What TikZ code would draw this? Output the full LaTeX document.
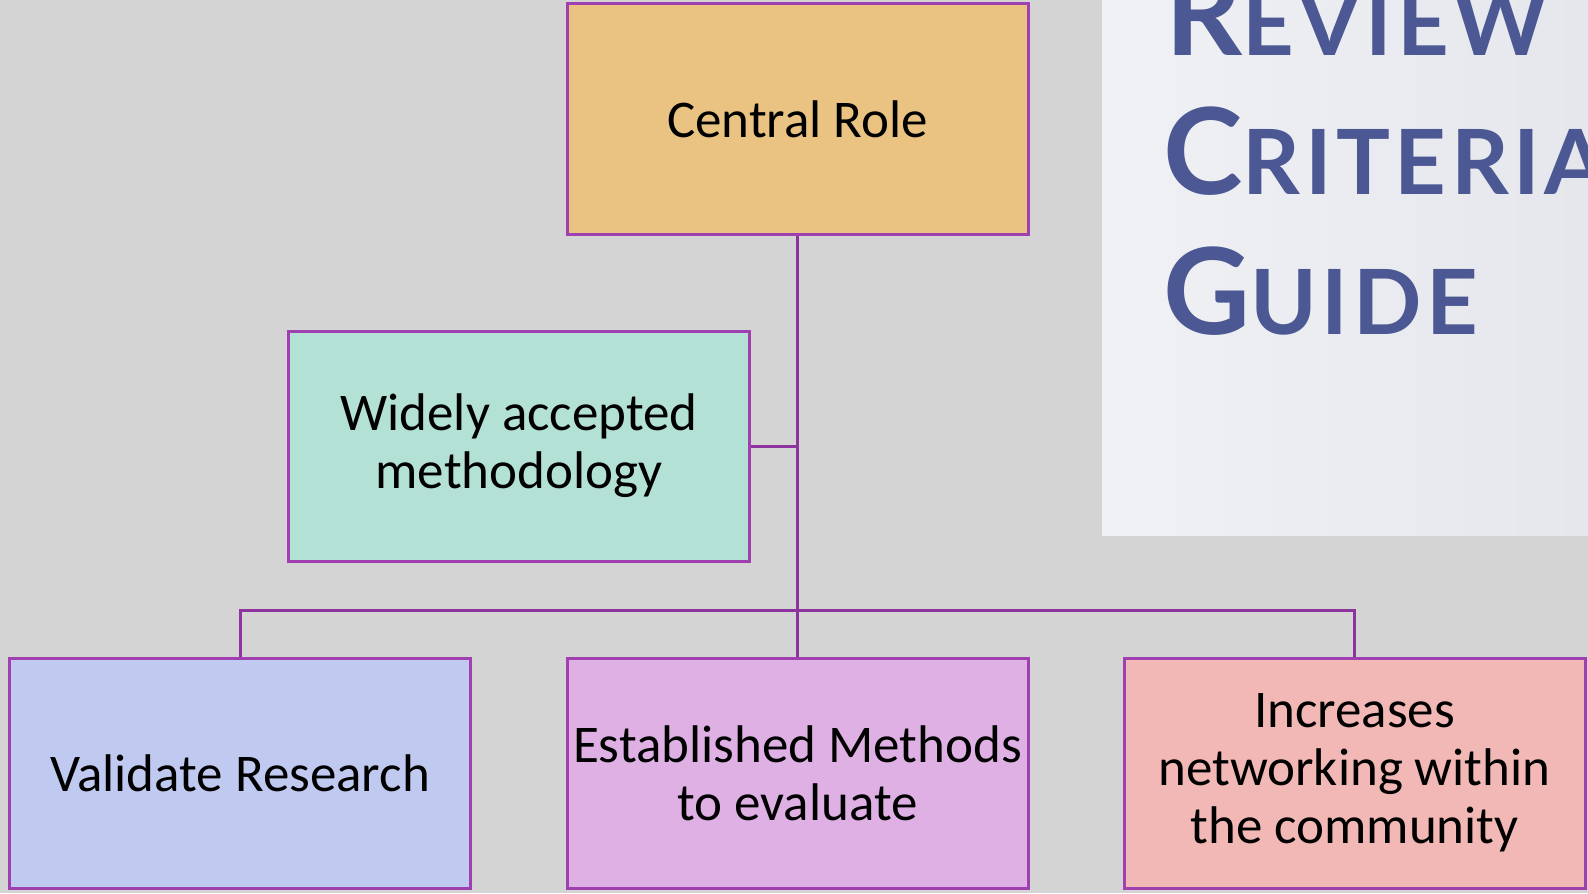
\documentclass[tikz,border=0pt]{standalone}
\usepackage{fontspec}
\setmainfont{Carlito}
\newfontfamily\titlefont{Lato}[LetterSpace=5]
\definecolor{bg}{RGB}{212,212,212}
\definecolor{bordc}{RGB}{160,64,176}
\definecolor{linkc}{RGB}{142,52,158}
\definecolor{titlec}{RGB}{75,88,147}
\definecolor{panelL}{RGB}{240,241,245}
\definecolor{panelR}{RGB}{229,231,236}
\definecolor{fcentral}{RGB}{234,195,131}
\definecolor{fwide}{RGB}{179,225,214}
\definecolor{fval}{RGB}{192,202,240}
\definecolor{fest}{RGB}{222,176,228}
\definecolor{finc}{RGB}{242,184,181}
\begin{document}
\begin{tikzpicture}[x=0.5pt,y=-0.5pt,
  box/.style={draw=bordc, line width=1.5pt, minimum width=230.5pt, minimum height=115pt,
    inner sep=0pt, align=center, font=\fontsize{26.5}{29}\selectfont, text=black},
  link/.style={draw=linkc, line width=1.5pt},
  big/.style={anchor=base west, inner sep=0pt, text=titlec}]
\fill[bg] (0,0) rectangle (1588,893);
\useasboundingbox (0,0) rectangle (1588,893);
\begin{scope}
  \clip (1102,0) rectangle (1588,535);
  \shade[left color=panelL, right color=panelR] (1102,0) rectangle (1588,535);
  \node[big] (t1) at (1165,56) {\titlefont\bfseries\fontsize{60}{60}\selectfont R\fontsize{45}{45}\selectfont EVIEW};
  \node[big] (t2) at (1163,195) {\titlefont\bfseries\fontsize{60}{60}\selectfont C\fontsize{45}{45}\selectfont RITERIA};
  \node[big] (t3) at (1163,334) {\titlefont\bfseries\fontsize{60}{60}\selectfont G\fontsize{45}{45}\selectfont UIDE};
\end{scope}
\node[box, fill=fcentral] (central) at (797.5,119) {Central Role};
\node[box, fill=fwide] (wide) at (519,446) {Widely accepted\\methodology};
\node[box, fill=fval] (val) at (240,773) {Validate Research};
\node[box, fill=fest] (est) at (797.5,773) {Established Methods\\to evaluate};
\node[box, fill=finc] (inc) at (1354.5,773) {Increases\\networking within\\the community};
\coordinate (bar) at (797.5,610);
\draw[link] (central.south) -- (est.north);
\draw[link] (val.north) |- (bar) -| (inc.north);
\draw[link] (wide.east) -- (wide.east -| central.south);
\end{tikzpicture}
\end{document}
